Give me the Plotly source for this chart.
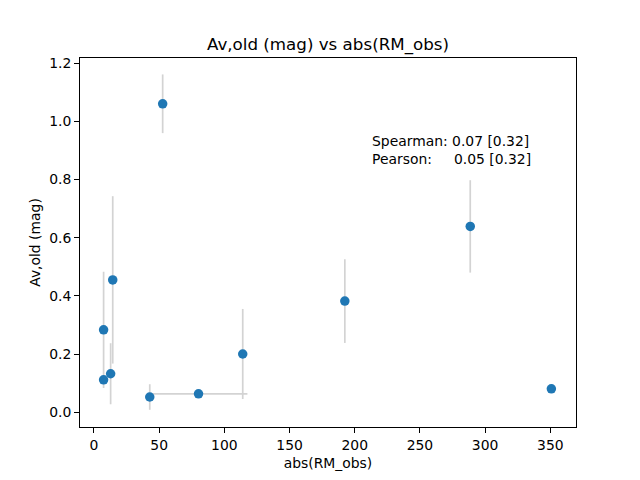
import plotly.graph_objects as go

# Data
rm_abs = [7.4, 7.4, 12.8, 14.4, 42.8, 52.7, 80.2, 114.1, 192.4, 288.6, 350.8]
av_old = [0.283, 0.111, 0.132, 0.455, 0.052, 1.061, 0.063, 0.200, 0.382, 0.639, 0.080]
av_err = [0.200, 0.0, 0.105, 0.288, 0.044, 0.101, 0.0, 0.155, 0.144, 0.159, 0.010]
rm_err = [0.0, 0.0, 0.0, 0.0, 0.0, 0.0, 37.5, 0.0, 0.0, 0.0, 0.0]

x_ticks = [0, 50, 100, 150, 200, 250, 300, 350]
y_ticks = [0.0, 0.2, 0.4, 0.6, 0.8, 1.0, 1.2]

FONT = "DejaVu Sans"
NB = "\u00a0"

fig = go.Figure()
fig.add_trace(go.Scatter(
    x=rm_abs, y=av_old, mode="markers",
    marker=dict(color="#1f77b4", size=9.5, line=dict(width=0)),
    error_y=dict(type="data", array=av_err, visible=True, color="lightgray",
                 thickness=1.7, width=0),
    error_x=dict(type="data", array=rm_err, visible=True, color="lightgray",
                 thickness=1.7, width=0),
    showlegend=False,
))

fig.add_annotation(
    xref="paper", yref="paper", x=0.585, y=0.803,
    xanchor="left", yanchor="top", showarrow=False, align="left",
    text="Spearman: 0.07 [0.32]<br>Pearson:" + NB * 5 + "0.05 [0.32]",
    font=dict(family=FONT, size=13.9, color="black"),
)

axis_common = dict(
    showline=True, linecolor="black", linewidth=1, mirror=True,
    ticks="outside", ticklen=5, tickwidth=1, tickcolor="black",
    showgrid=False, zeroline=False,
    tickfont=dict(family=FONT, size=13.9, color="black"),
)

# the page body adds an 8px offset; margins compensate for it
fig.update_layout(
    width=640, height=480,
    margin=dict(l=72, r=72, t=49.6, b=60.8),
    paper_bgcolor="white", plot_bgcolor="white",
    font=dict(family=FONT, color="black"),
    title=dict(text="Av,old (mag) vs abs(RM_obs)", x=0.5, xref="paper",
               xanchor="center", y=(480 - 36) / 480, yanchor="middle",
               font=dict(family=FONT, size=16.7, color="black")),
    xaxis=dict(range=[-10.7, 369.7], tickvals=x_ticks,
               ticktext=[str(v) for v in x_ticks],
               title=dict(text="abs(RM_obs)", standoff=6,
                          font=dict(family=FONT, size=13.9, color="black")),
               **axis_common),
    yaxis=dict(range=[-0.0512, 1.2185], tickvals=y_ticks,
               ticktext=[f"{v:.1f}" for v in y_ticks],
               title=dict(text="Av,old (mag)", standoff=5,
                          font=dict(family=FONT, size=13.9, color="black")),
               **axis_common),
)

fig.write_html("out.html")
